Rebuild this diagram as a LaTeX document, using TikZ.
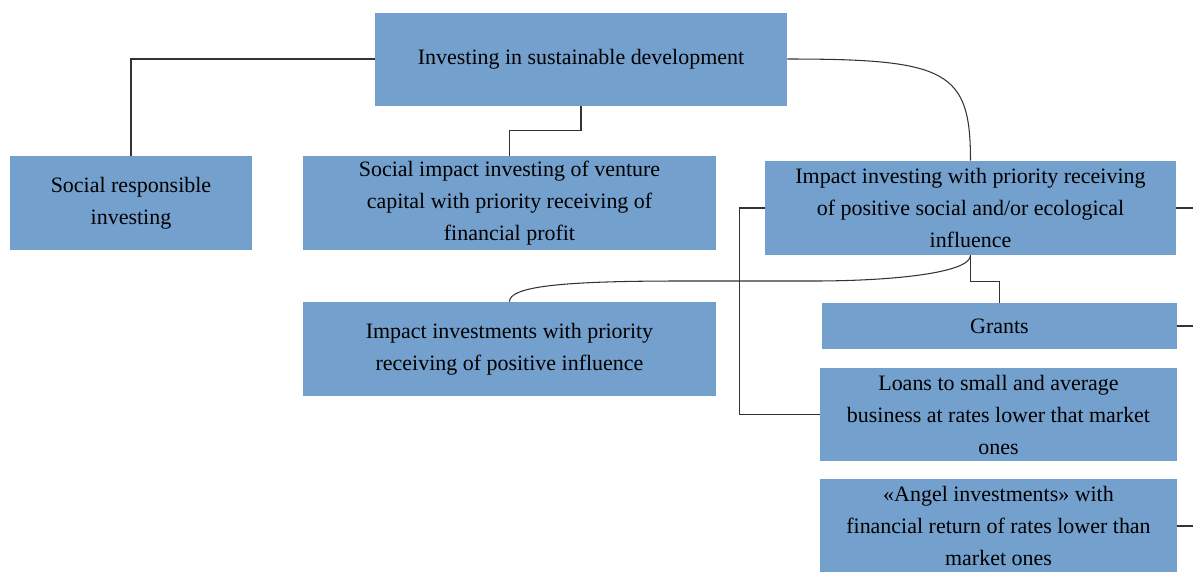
\documentclass[tikz,border=0pt]{standalone}
\usepackage{fontspec}
\setmainfont{Liberation Serif}
\definecolor{boxblue}{RGB}{116,160,206}

\begin{document}
\begin{tikzpicture}[
    box/.style={rectangle, fill=boxblue, align=center, inner sep=2pt,
        font=\fontsize{12.5}{18.2}\selectfont},
    link/.style={draw=black!80, line width=0.6pt}
  ]
    \clip (0,0) rectangle (23.86,-11.42);

    \node[box, minimum width=8.24cm, minimum height=1.86cm] (root) at (11.62,-1.18) {Investing in sustainable development};
    \node[box, minimum width=4.84cm, minimum height=1.88cm] (sri) at (2.62,-4.06) {Social responsible\\investing};
    \node[box, minimum width=8.26cm, minimum height=1.88cm] (venture) at (10.19,-4.06) {Social impact investing of venture\\capital with priority receiving of\\financial profit};
    \node[box, minimum width=8.22cm, minimum height=1.88cm] (impact) at (19.41,-4.16) {Impact investing with priority receiving\\of positive social and/or ecological\\influence};
    \node[box, minimum width=8.26cm, minimum height=1.88cm] (positive) at (10.19,-6.98) {Impact investments with priority\\receiving of positive influence};
    \node[box, minimum width=7.10cm, minimum height=0.92cm] (grants) at (19.99,-6.52) {Grants};
    \node[box, minimum width=7.14cm, minimum height=1.86cm] (loans) at (19.97,-8.29) {Loans to small and average\\business at rates lower that market\\ones};
    \node[box, minimum width=7.14cm, minimum height=1.90cm] (angel) at (19.97,-10.52) {«Angel investments» with\\financial return of rates lower than\\market ones};

    % free ends at the right border
    \coordinate (impactend) at (23.86,-4.16);
    \coordinate (grantsend) at (23.86,-6.52);
    \coordinate (angelend) at (23.86,-10.52);
    \coordinate (bendright) at (16.26,-5.62);
    \coordinate (bendleft) at (13.60,-5.62);

    \draw[link] (root.west) -| (sri.north);
    \draw[link] (root.south) -- ++(0,-0.5) -| (venture.north);
    \draw[link] (root.east) .. controls +(3.2,0) and +(0,1.8) .. (impact.north);
    \draw[link] (impact.south) .. controls +(0,-0.35) and +(1.6,0) .. (bendright) -- (bendleft)
        .. controls +(-2.4,0) and +(0,0.3) .. (positive.north);
    \draw[link] (impact.south) -- ++(0,-0.52) -| (grants.north);
    \draw[link] (impact.west) -- ++(-0.5,0) |- (loans.west);
    \draw[link] (impact.east) -- (impactend);
    \draw[link] (grants.east) -- (grantsend);
    \draw[link] (angel.east) -- (angelend);
\end{tikzpicture}
\end{document}
